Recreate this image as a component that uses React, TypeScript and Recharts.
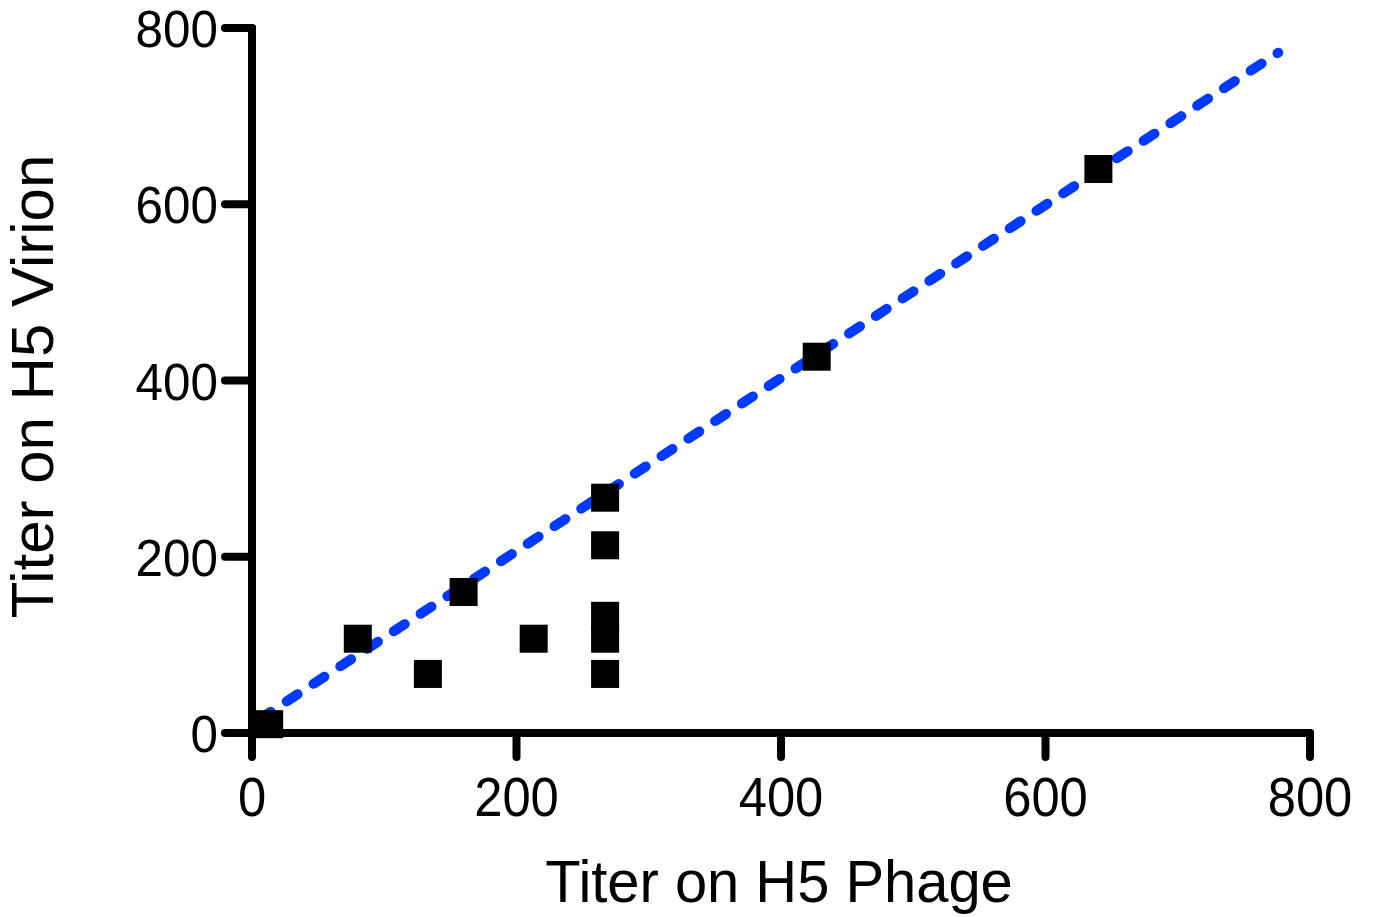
import React from "react";
import { ScatterChart, Scatter, XAxis, YAxis, ReferenceLine, Label } from "recharts";

const phageTiter = [13, 80, 133, 160, 213, 267, 267, 267, 267, 267, 427, 640];
const virionTiter = [10, 107, 67, 160, 107, 267, 213, 133, 107, 67, 427, 640];
const fitX = [6, 776];
const fitY = [16, 772];
const axisTicks = [0, 200, 400, 600, 800];
const xTitle = "Titer on H5 Phage";
const yTitle = "Titer on H5 Virion";

const points = phageTiter.map((x, i) => ({ x, y: virionTiter[i] }));

const FONT = "'Liberation Sans', Arial, Helvetica, sans-serif";

const Square = (props: any) => {
  const { cx, cy } = props;
  if (cx == null || cy == null) return null;
  return <rect x={cx - 14} y={cy - 14} width={28} height={28} fill="#000" />;
};

const XTick = (props: any) => {
  const { x, y, payload } = props;
  return (
    <g transform={`translate(${x},${y})`}>
      <text x={0} y={0} dy={55} textAnchor="middle" fontSize={54} fontFamily={FONT} fill="#000" transform="scale(0.94,1.04)">
        {payload.value}
      </text>
    </g>
  );
};

const YTick = (props: any) => {
  const { x, y, payload } = props;
  return (
    <g transform={`translate(${x - 5},${y})`}>
      <text x={0} y={0} dy={19} textAnchor="end" fontSize={52} fontFamily={FONT} fill="#000" transform="scale(0.95,1)">
        {payload.value}
      </text>
    </g>
  );
};

const XTitle = (props: any) => {
  const vb = props.viewBox || {};
  const cx = vb.x + vb.width / 2;
  return (
    <g transform={`translate(${cx - 2},${vb.y + 169})`}>
      <text x={0} y={0} textAnchor="middle" fontSize={60} fontFamily={FONT} fill="#000" transform="scale(0.965,1)">
        {xTitle}
      </text>
    </g>
  );
};

const YTitle = (props: any) => {
  const vb = props.viewBox || {};
  const cy = vb.y + vb.height / 2;
  return (
    <g transform={`translate(53,${cy + 6}) rotate(-90)`}>
      <text x={0} y={0} textAnchor="middle" fontSize={60} fontFamily={FONT} fill="#000">
        {yTitle}
      </text>
    </g>
  );
};

export default function App() {
  const axisStyle = { stroke: "#000", strokeWidth: 8, strokeLinecap: "round" as const };
  return (
    <div style={{ position: "absolute", left: 0, top: 0, background: "#fff" }}>
      <ScatterChart width={1373} height={917} margin={{ top: 28, right: 63, bottom: 0, left: 0 }}>
        <XAxis
          type="number"
          dataKey="x"
          domain={[0, 800]}
          ticks={axisTicks}
          height={184}
          axisLine={axisStyle}
          tickLine={axisStyle}
          tickSize={24}
          tick={XTick}
          interval={0}
        >
          <Label content={XTitle} />
        </XAxis>
        <YAxis
          type="number"
          dataKey="y"
          domain={[0, 800]}
          ticks={axisTicks}
          width={252}
          axisLine={axisStyle}
          tickLine={axisStyle}
          tickSize={27}
          tick={YTick}
          interval={0}
        >
          <Label content={YTitle} />
        </YAxis>
        <Scatter data={points} shape={Square} isAnimationActive={false} />
        <ReferenceLine
          segment={[
            { x: fitX[0], y: fitY[0] },
            { x: fitX[1], y: fitY[1] },
          ]}
          stroke="#0039ff"
          strokeWidth={10}
          strokeDasharray="13 19"
          strokeLinecap="round"
          ifOverflow="visible"
        />
      </ScatterChart>
    </div>
  );
}
